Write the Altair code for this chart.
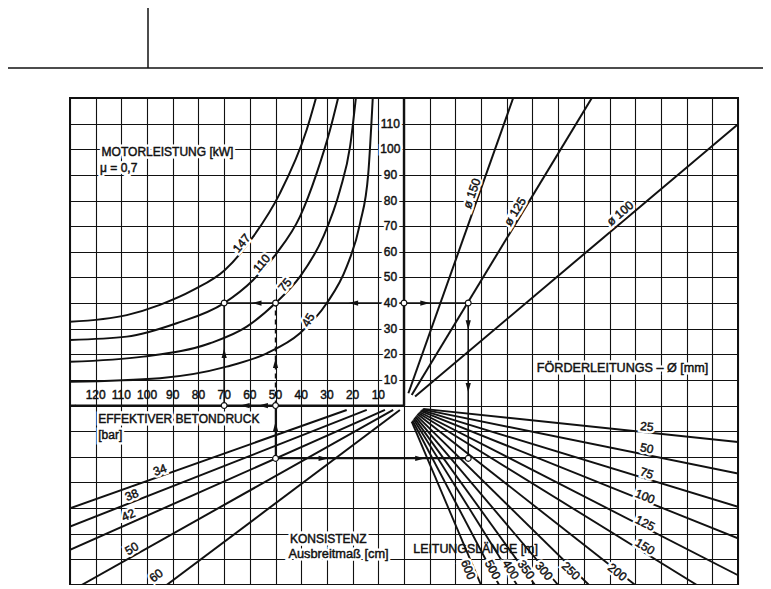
import altair as alt
import pandas as pd

# ---------------- grid ----------------
X_GRID = list(range(-130, 131, 10))
Y_GRID = list(range(-70, 121, 10))

# ---------------- Motorleistung [kW] curves (x = -Betondruck bar, y = Foerdermenge) ----------------
M147_X = [-130, -107.9, -95, -82, -69.7, -58.7, -48.3, -37.9, -33.4]
M147_Y = [32.7, 35.3, 39.3, 45.1, 52.9, 65.9, 82.8, 107.5, 123.1]
M110_X = [-130, -107.9, -88.5, -70, -58.7, -49.6, -40.5, -34, -28.8, -24.9]
M110_Y = [25.6, 26.9, 32.1, 40, 49, 59.4, 73.7, 90.6, 107.5, 123.1]
M75_X = [-130, -101.5, -75.5, -61.2, -50, -40.5, -31.4, -24.9, -21, -18.4]
M75_Y = [17.1, 19.1, 24.3, 30.8, 40, 50.3, 65.9, 84.1, 101, 123.1]
M45_X = [-130, -95, -69, -53.4, -40.5, -30.1, -22.3, -17.1, -13.9, -12]
M45_Y = [9.3, 10.7, 15.2, 20.4, 28.2, 39.9, 54.2, 71.1, 90.6, 123.1]
M_LABELS = ["147", "110", "75", "45"]
M_LX = [-63.2, -55.4, -46.3, -37.3]
M_LY = [63.3, 55.5, 47.1, 33.4]
M_LA = [310, 311, 310, 300]

# ---------------- Foerderleitungs-Durchmesser lines ----------------
D_LABELS = ["ø 150", "ø 125", "ø 100"]
D_X0 = [1.7, 3.0, 4.3]
D_Y0 = [4.8, 4.1, 3.5]
D_X1 = [42.5, 73.1, 130]
D_Y1 = [120, 120, 109.8]
D_LX = [26.4, 43.2, 84.1]
D_LY = [82.8, 75.7, 75.0]
D_LA = [289.5, 301, 320]

# ---------------- Konsistenz (Ausbreitmass cm) lines ----------------
K_LABELS = ["34", "38", "42", "50", "60"]
K_X0 = [-22.3, -14.5, -7.4, -4.2, -1.6]
K_Y0 = [-1.7, -1.7, -1.7, -1.7, -1.7]
K_X1 = [-130, -130, -130, -125.5, -92.4]
K_Y1 = [-40.1, -47.2, -56.3, -70, -70]
K_LX = [-95, -106, -107.3, -106, -96.5]
K_LY = [-25.1, -34.9, -42.7, -55.8, -66.3]
K_LA = [340, 338, 336, 330, 323]

# ---------------- Leitungslaenge [m] fan ----------------
F_LABELS = ["25", "50", "75", "100", "125", "150", "200", "250", "300", "350", "400", "500", "600"]
F_X0 = [7.5, 7.2, 6.8, 6.4, 6.0, 5.6, 5.2, 4.8, 4.4, 4.0, 3.7, 3.3, 3.0]
F_Y0 = [-1.3, -1.5, -1.8, -2.1, -2.5, -2.9, -3.3, -3.8, -4.3, -4.8, -5.3, -5.8, -6.3]
F_X1 = [130, 130, 130, 130, 130, 114, 90, 72, 60, 51, 44, 37, 30]
F_Y1 = [-14.2, -26.5, -39.5, -51.8, -66.2, -70, -70, -70, -70, -70, -70, -70, -70]
F_LX = [94.5, 94.5, 94.5, 93.8, 93.8, 93.8, 83.0, 65.0, 54.5, 47.5, 41.5, 34.5, 25.0]
F_LY = [-8.2, -16.7, -26.4, -35.5, -45.9, -55.0, -65.0, -64.5, -64.5, -64.0, -64.0, -64.0, -64.0]
F_LA = [6, 11.6, 17, 21.8, 27, 31.6, 38.3, 44.7, 51, 54.5, 58, 62, 67]

# ---------------- example construction ----------------
C_X1 = [-70, 25, -50, -50, -70]
C_Y1 = [40, 40, -20.6, -20.6, 0]
C_X2 = [25, 25, 25, -50, -70]
C_Y2 = [40, -20.6, -20.6, 0, 40]
DASH_X1, DASH_Y1, DASH_X2, DASH_Y2 = [-50], [0], [-50], [40]
CIRC_X = [-70, -50, 0, 25, 25, -50, -50, -70]
CIRC_Y = [40, 40, 40, 40, -20.6, -20.6, 0, 0]
ARR_X = [-57.3, -19.7, 8.2, 25, 25, -50, -70, -50, -61.9, -54.8, -31.4, 6.2]
ARR_Y = [40, 40, 40, 31.4, 7.0, 16.5, 20.4, -8.2, 0, 0, -20.6, -20.6]
ARR_A = [270, 270, 90, 180, 180, 0, 0, 0, 270, 270, 90, 90]

# axis lines (thick)
AX_X1 = [-130, 0]
AX_Y1 = [0, 0]
AX_X2 = [0, 0]
AX_Y2 = [0, 120]
AXEND_X = [-130, 0]
AXEND_Y = [0, 120]
AXEND_A = [270, 0]

# axis tick labels
Q_TICKS = [10, 20, 30, 40, 50, 60, 70, 80, 90, 100, 110]
P_TICKS = [120, 110, 100, 90, 80, 70, 60, 50, 40, 30, 20, 10]

# block texts
T_TEXT = ["MOTORLEISTUNG  [kW]", "μ = 0,7", "EFFEKTIVER  BETONDRUCK", "[bar]",
          "KONSISTENZ", "Ausbreitmaß [cm]", "FÖRDERLEITUNGS – Ø [mm]"]
T_X = [-117.7, -118.3, -119, -119, -44.4, -45, 51.7]
T_Y = [99.0, 92.6, -5.3, -11.5, -51.9, -58.0, 14.6]
T_FS = [12, 12, 12, 12, 12, 12.8, 12.6]
T2_TEXT = ["LEITUNGSLÄNGE [m]"]
T2_X = [3.6]
T2_Y = [-55.8]

INK = "#111111"
FONT = "Liberation Sans"

xs = alt.Scale(domain=[-130, 130], nice=False, zero=False)
ys = alt.Scale(domain=[-70, 120], nice=False, zero=False)
xa = alt.Axis(values=X_GRID, grid=True, labels=False, ticks=False, domain=False, title=None,
              gridColor=INK, gridWidth=1.1, gridOpacity=1)
ya = alt.Axis(values=Y_GRID, grid=True, labels=False, ticks=False, domain=False, title=None,
              gridColor=INK, gridWidth=1.1, gridOpacity=1)


def X(f):
    return alt.X(f, type="quantitative", scale=xs, axis=xa)


def Y(f):
    return alt.Y(f, type="quantitative", scale=ys, axis=ya)


# ---- data frames ----
rows = []
for name, xsv, ysv in [("147", M147_X, M147_Y), ("110", M110_X, M110_Y),
                       ("75", M75_X, M75_Y), ("45", M45_X, M45_Y)]:
    for i, (a, b) in enumerate(zip(xsv, ysv)):
        rows.append({"s": name, "i": i, "x": a, "y": b})
motor_df = pd.DataFrame(rows)


def seg_df(x0, y0, x1, y1):
    return pd.DataFrame({"x": x0, "y": y0, "x2": x1, "y2": y1})


diam_df = seg_df(D_X0, D_Y0, D_X1, D_Y1)
kons_df = seg_df(K_X0, K_Y0, K_X1, K_Y1)
fan_df = seg_df(F_X0, F_Y0, F_X1, F_Y1)
cons_df = seg_df(C_X1, C_Y1, C_X2, C_Y2)
dash_df = seg_df(DASH_X1, DASH_Y1, DASH_X2, DASH_Y2)
axis_df = seg_df(AX_X1, AX_Y1, AX_X2, AX_Y2)

lab_df = pd.concat([
    pd.DataFrame({"t": M_LABELS, "x": M_LX, "y": M_LY, "a": M_LA}),
    pd.DataFrame({"t": D_LABELS, "x": D_LX, "y": D_LY, "a": D_LA}),
    pd.DataFrame({"t": K_LABELS, "x": K_LX, "y": K_LY, "a": K_LA}),
    pd.DataFrame({"t": F_LABELS, "x": F_LX, "y": F_LY, "a": F_LA}),
], ignore_index=True)
lab_df["fs"] = 12

qtick_df = pd.DataFrame({"t": [str(v) for v in Q_TICKS], "x": [-5.3] * len(Q_TICKS), "y": Q_TICKS,
                         "fs": 12})
ptick_df = pd.DataFrame({"t": [str(v) for v in P_TICKS], "x": [-v for v in P_TICKS],
                         "y": [4.1] * len(P_TICKS), "fs": 12})
block_df = pd.DataFrame({"t": T_TEXT, "x": T_X, "y": T_Y, "fs": T_FS})
block2_df = pd.DataFrame({"t": T2_TEXT, "x": T2_X, "y": T2_Y, "fs": 12.4})
circ_df = pd.DataFrame({"x": CIRC_X, "y": CIRC_Y})
arr_df = pd.DataFrame({"x": ARR_X, "y": ARR_Y, "a": ARR_A})
axend_df = pd.DataFrame({"x": AXEND_X, "y": AXEND_Y, "a": AXEND_A})
dummy = pd.DataFrame({"d": [0]})

ARROW_C = "M0,-1L0.55,1L-0.55,1Z"
ARROW_TIP = "M0,0L0.32,2.2L-0.32,2.2Z"

layers = []

# base (grid)
layers.append(alt.Chart(circ_df).mark_point(opacity=0).encode(x=X("x"), y=Y("y")))

# motor curves
layers.append(alt.Chart(motor_df).mark_line(color=INK, strokeWidth=2, interpolate="monotone", clip=True)
              .encode(x=X("x"), y=Y("y"), detail="s:N", order="i:Q"))


def seg_layer(df, w, dash=None):
    kw = dict(color=INK, strokeWidth=w, clip=True)
    if dash:
        kw["strokeDash"] = dash
    return alt.Chart(df).mark_rule(**kw).encode(x=X("x"), y=Y("y"),
                                                x2=alt.X2("x2"), y2=alt.Y2("y2"))


layers.append(seg_layer(diam_df, 2))
layers.append(seg_layer(kons_df, 2))
layers.append(seg_layer(fan_df, 1.9))
layers.append(seg_layer(axis_df, 2.4))
layers.append(seg_layer(cons_df, 1.6))
layers.append(seg_layer(dash_df, 1.5, [5, 4]))

# arrowheads
layers.append(alt.Chart(arr_df).mark_point(shape=ARROW_C, filled=True, color=INK, size=90, opacity=1)
              .encode(x=X("x"), y=Y("y"), angle=alt.Angle("a:Q", scale=None)))
layers.append(alt.Chart(axend_df).mark_point(shape=ARROW_TIP, filled=True, color=INK, size=30, opacity=1)
              .encode(x=X("x"), y=Y("y"), angle=alt.Angle("a:Q", scale=None)))

# circles
layers.append(alt.Chart(circ_df).mark_point(shape="circle", filled=True, fill="white", stroke=INK,
                                            strokeWidth=1.2, size=34, opacity=1)
              .encode(x=X("x"), y=Y("y")))


def text_layer(df, align, rotate=False, halo=False):
    enc = dict(x=X("x"), y=Y("y"), text="t:N", size=alt.Size("fs:Q", scale=None, legend=None))
    if rotate:
        enc["angle"] = alt.Angle("a:Q", scale=None)
    out = []
    if halo:
        out.append(alt.Chart(df).mark_text(font=FONT, align=align, baseline="middle",
                                           color="white", stroke="white", strokeWidth=5).encode(**enc))
    out.append(alt.Chart(df).mark_text(font=FONT, align=align, baseline="middle",
                                       color=INK, stroke=INK, strokeWidth=0.45).encode(**enc))
    return out


layers += text_layer(lab_df, "center", rotate=True, halo=True)
layers += text_layer(qtick_df, "center", halo=True)
layers += text_layer(block_df, "left", halo=True)
layers += text_layer(ptick_df, "center")
layers += text_layer(block2_df, "left")

# header frame lines (page decoration above the chart)
layers.append(alt.Chart(dummy).mark_rule(color=INK, strokeWidth=1.5)
              .encode(x=alt.value(-62), x2=alt.value(705), y=alt.value(-30)))
layers.append(alt.Chart(dummy).mark_rule(color=INK, strokeWidth=1.5)
              .encode(x=alt.value(78), y=alt.value(-95), y2=alt.value(-30)))

chart = alt.layer(*layers).properties(
    width=668, height=487,
    padding={"left": 62, "top": 90, "right": 25, "bottom": 0},
    autosize=alt.AutoSizeParams(type="none"),
    background="white",
).configure_view(stroke=INK, strokeWidth=2)

chart.save("out.html", embed_options={"renderer": "svg", "actions": False})
